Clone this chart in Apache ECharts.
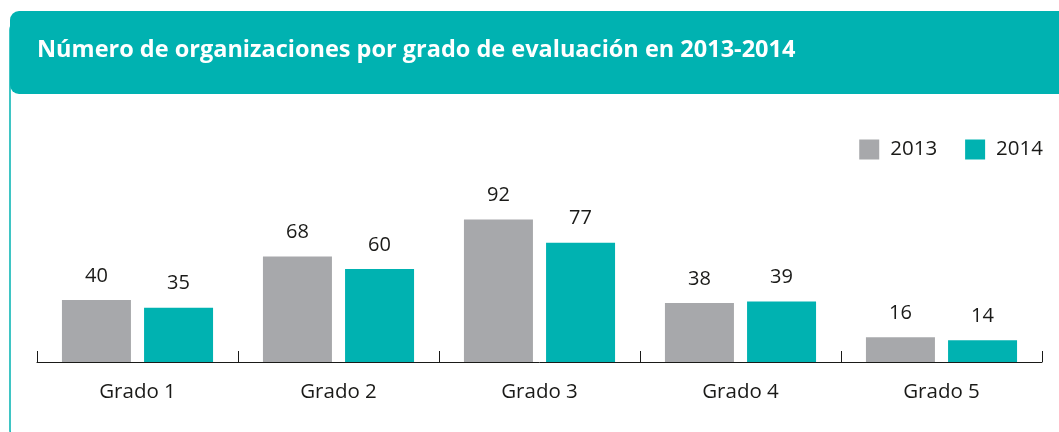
<!DOCTYPE html>
<html>
<head>
<meta charset="utf-8">
<title>Número de organizaciones por grado de evaluación</title>
<script src="https://cdn.jsdelivr.net/npm/echarts@6/dist/echarts.min.js"></script>
<style>
  html, body {
    margin: 0;
    padding: 0;
    background: #ffffff;
  }
  #chart {
    width: 1059px;
    height: 432px;
  }
</style>
</head>
<body>
<div id="chart"></div>
<script>
const categories = ["Grado 1", "Grado 2", "Grado 3", "Grado 4", "Grado 5"];
const seriesNames = ["2013", "2014"];
const values2013 = [40, 68, 92, 38, 16];
const values2014 = [35, 60, 77, 39, 14];

const teal = "#00b2b1";
const grey = "#a7a8ab";
const ink = "#1a1a18";
const font = "'Open Sans', 'Noto Sans', sans-serif";

let chartDom = document.getElementById("chart");
let myChart = echarts.init(chartDom);
let option;

function barSeries(name, data, color) {
  return {
    name: name,
    type: "bar",
    data: data,
    barWidth: 69,
    barGap: "19%",
    itemStyle: { color: color },
    label: {
      show: true,
      position: "top",
      distance: 14,
      color: ink,
      fontSize: 20,
      fontFamily: font,
    },
  };
}

option = {
  animation: false,
  backgroundColor: "#ffffff",
  graphic: [
    // box outline, bottom edge falls outside the picture
    {
      type: "rect",
      shape: { x: 10, y: 20, width: 1100, height: 420, r: 10 },
      style: { fill: "none", stroke: teal, lineWidth: 1.5 },
      z: 0,
    },
    // header banner
    {
      type: "rect",
      shape: { x: 10, y: 11, width: 1100, height: 83, r: [9, 0, 0, 9] },
      style: { fill: teal },
      z: 1,
    },
    {
      type: "text",
      left: 37,
      top: 38,
      style: {
        text: "Número de organizaciones por grado de evaluación en 2013-2014",
        fill: "#ffffff",
        font: "bold 23.5px " + font,
      },
      z: 2,
    },
  ],
  legend: {
    right: 11,
    top: 134,
    itemWidth: 20,
    itemHeight: 20,
    itemGap: 28,
    icon: "rect",
    textStyle: {
      color: ink,
      fontSize: 20.5,
      fontFamily: font,
      padding: [0, 0, 0, 6],
    },
    data: seriesNames,
  },
  grid: {
    left: 37,
    right: 17,
    top: 207,
    bottom: 70,
  },
  xAxis: {
    type: "category",
    data: categories,
    axisLine: { lineStyle: { color: ink, width: 1 } },
    axisTick: {
      show: true,
      inside: true,
      length: 11,
      lineStyle: { color: ink, width: 1 },
    },
    axisLabel: {
      color: ink,
      fontSize: 20.5,
      fontFamily: font,
      margin: 20,
    },
  },
  yAxis: {
    type: "value",
    min: 0,
    max: 100,
    show: false,
  },
  series: [
    barSeries(seriesNames[0], values2013, grey),
    barSeries(seriesNames[1], values2014, teal),
  ],
};

option && myChart.setOption(option);
</script>
</body>
</html>
